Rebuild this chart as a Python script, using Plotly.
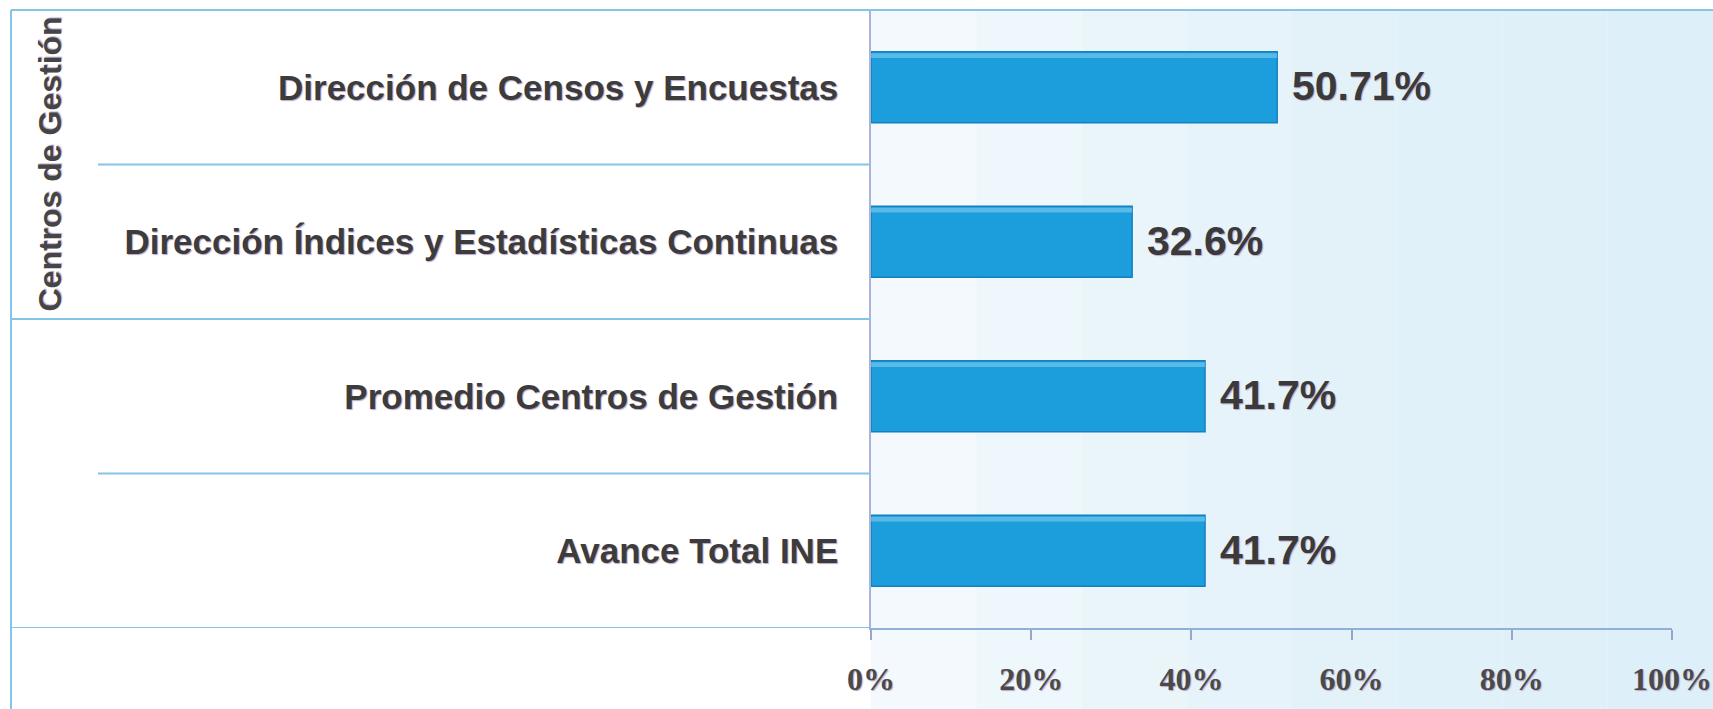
import plotly.graph_objects as go

# data
categories = [
    "Dirección de Censos y Encuestas",
    "Dirección Índices y Estadísticas Continuas",
    "Promedio Centros de Gestión",
    "Avance Total INE",
]
values = [50.71, 32.6, 41.7, 41.7]
value_labels = ["50.71%", "32.6%", "41.7%", "41.7%"]
tick_values = [0, 20, 40, 60, 80, 100]
tick_labels = ["0%", "20%", "40%", "60%", "80%", "100%"]
group_title = "Centros de Gestión"

W, H = 1713, 709
L, R, T, B = 871, 41, 10, 81
PW = W - L - R
PH = H - T - B

SANS = "Liberation Sans, Arial, sans-serif"
SERIF = "Liberation Serif, Times New Roman, serif"
FRAME = "#86c3e8"
SHADOW = "1px 1px 1px #b9a7c9"


def xp(px):
    """pixel column -> paper x"""
    return (px - L) / PW


def yp(py):
    """pixel row -> paper y"""
    return (H - B - py) / PH


fig = go.Figure()
fig.add_trace(go.Bar(
    x=values, y=categories, orientation="h",
    marker=dict(color="#1c9edc", line=dict(color="#1380c0", width=1.5)),
    width=0.46, hoverinfo="x+y",
))
# glossy highlight along the top edge of each bar
fig.add_trace(go.Bar(
    x=values, y=categories, orientation="h",
    marker=dict(color="rgba(130,205,240,0.6)", line=dict(width=0)),
    width=0.03, offset=-0.22, hoverinfo="skip",
))

for v, lab, cat in zip(values, value_labels, categories):
    fig.add_annotation(x=v, y=cat, text=lab, showarrow=False, xanchor="left",
                       xshift=13, yshift=1,
                       font=dict(family=SANS, size=41, color="#3a3a3a", weight="bold", shadow=SHADOW))

fig.add_annotation(xref="paper", yref="y", x=xp(49), y=0.5, text=group_title,
                   textangle=-90, showarrow=False, xanchor="center", yanchor="middle",
                   font=dict(family=SANS, size=32, color="#454545", weight="bold", shadow=SHADOW))

shapes = []
# soft blue backdrop that gets stronger to the right
bands = ["#f3f9fc", "#eef7fb", "#eaf5fa", "#e6f3fa", "#e3f2f9", "#e1f1f9", "#dff0f9", "#ddeff8"]
n = len(bands)
for i, c in enumerate(bands):
    x0 = xp(L) + i * (xp(W) - xp(L)) / n
    x1 = xp(L) + (i + 1) * (xp(W) - xp(L)) / n
    shapes.append(dict(type="rect", xref="paper", yref="paper", x0=x0, x1=x1,
                       y0=yp(H), y1=yp(T), fillcolor=c, line=dict(width=0), layer="below"))
# frame and category dividers
line = dict(color=FRAME, width=2)
shapes += [
    dict(type="line", xref="paper", yref="paper", x0=xp(11), x1=xp(W), y0=yp(T), y1=yp(T), line=line),
    dict(type="line", xref="paper", yref="paper", x0=xp(11), x1=xp(11), y0=yp(T), y1=yp(H), line=line),
    dict(type="line", xref="paper", yref="y", x0=xp(98), x1=0, y0=0.5, y1=0.5, line=line),
    dict(type="line", xref="paper", yref="y", x0=xp(11), x1=0, y0=1.5, y1=1.5, line=line),
    dict(type="line", xref="paper", yref="y", x0=xp(98), x1=0, y0=2.5, y1=2.5, line=line),
    dict(type="line", xref="paper", yref="y", x0=xp(11), x1=0, y0=3.5, y1=3.5, line=line),
]

fig.update_layout(
    width=W, height=H,
    margin=dict(l=L, r=R, t=T, b=B),
    paper_bgcolor="white", plot_bgcolor="rgba(0,0,0,0)",
    showlegend=False, barmode="overlay", bargap=0.54,
    shapes=shapes,
)
fig.update_xaxes(
    range=[0, 100], tickvals=tick_values, ticktext=tick_labels,
    automargin=False, ticklabeloverflow="allow",
    showgrid=False, zeroline=False,
    showline=True, linecolor="#8fb0d8", linewidth=2,
    ticks="outside", ticklen=10, tickcolor="#9aa6c8", tickwidth=1.5,
    ticklabelstandoff=12,
    tickfont=dict(family=SERIF, size=32, color="#4a4a4a", weight="bold", shadow=SHADOW),
)
fig.update_yaxes(
    categoryorder="array", categoryarray=categories, range=[3.5, -0.5],
    automargin=False, ticklabeloverflow="allow",
    showgrid=False, zeroline=False,
    showline=True, linecolor="#a9b4d6", linewidth=1.5,
    ticks="", ticklabelstandoff=24,
    tickfont=dict(family=SANS, size=35, color="#3c3c3c", weight="bold", shadow=SHADOW),
)

# the page body has a default 8px margin; drop it so the figure sits at 0,0
fig.write_html("out.html", config={"displayModeBar": False},
               post_script="document.body.style.margin='0';")
